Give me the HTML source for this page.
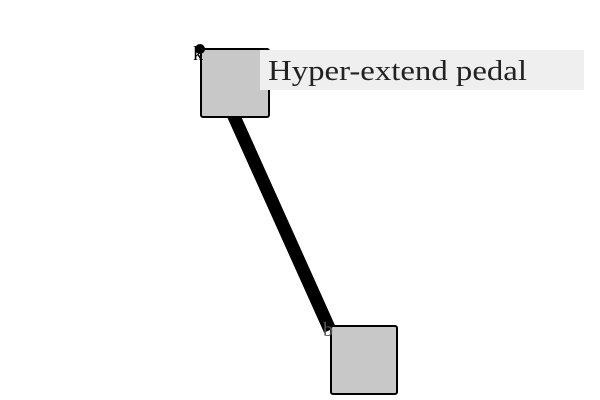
<!DOCTYPE html>
<html><head><style>body{margin:0;background:#fff}</style></head><body>
<svg width="600" height="400" xmlns="http://www.w3.org/2000/svg" style="display:block">
<line x1="232" y1="112" x2="330" y2="330" stroke="#000" stroke-width="13"/>
<rect x="201" y="49" width="68" height="68" rx="2" fill="#c8c8c8" stroke="#000" stroke-width="2"/>
<rect x="331" y="326" width="66" height="68" rx="2" fill="#c8c8c8" stroke="#000" stroke-width="2"/>
<rect x="260" y="50" width="324" height="40" fill="#efefef"/>
<text x="268" y="80" font-family="Liberation Serif, serif" font-size="28" fill="#222" textLength="259" lengthAdjust="spacingAndGlyphs">Hyper-extend pedal</text>
<circle cx="200" cy="49" r="5" fill="#000"/>
<text x="193" y="60" font-family="Liberation Serif, serif" font-size="20" fill="#000">k</text>
<text x="323" y="336" font-family="Liberation Serif, serif" font-size="20" fill="#555">b</text>
</svg>
</body></html>
